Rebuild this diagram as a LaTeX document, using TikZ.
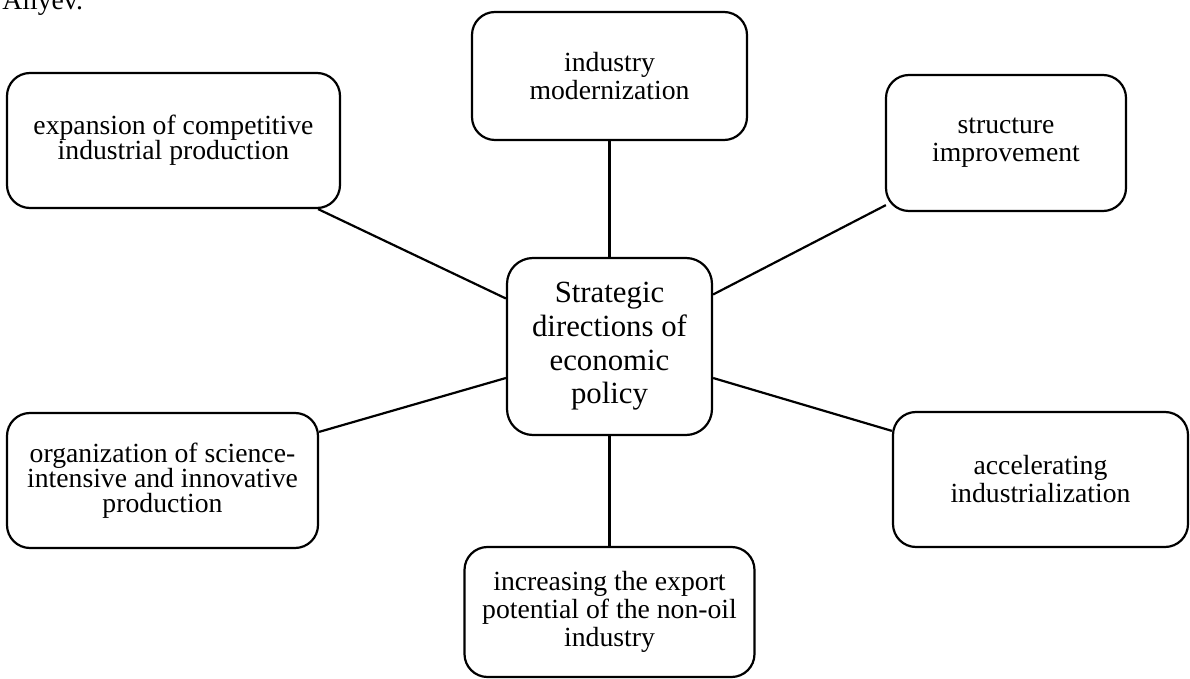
\documentclass[tikz,border=0pt]{standalone}
\usepackage{fontspec}
\setmainfont{Liberation Serif}
\usepackage{tikz}
\usetikzlibrary{calc}

\tikzset{
  branch/.style={draw,line width=1.1pt,rounded corners=11.5pt,align=center,inner sep=2pt,
    font=\fontsize{13.85pt}{14pt}\selectfont},
  tight/.style={font=\fontsize{13.85pt}{12.6pt}\selectfont},
  hubbox/.style={branch,rounded corners=13pt,font=\fontsize{15.4pt}{16.8pt}\selectfont},
  spoke/.style={line width=1.1pt}
}

\begin{document}
\begin{tikzpicture}[x=0.5pt,y=-0.5pt]
\useasboundingbox (0,0) rectangle (1190,679);
\node[anchor=base east,font=\fontsize{13.85pt}{14pt}\selectfont] (author) at (90,10){Aliyev.};
\node[hubbox,minimum width=102.5pt,minimum height=88.5pt] (hub) at (609.5,346.5){Strategic\\directions of\\economic\\policy};
\node[branch,tight,minimum width=166.5pt,minimum height=67.5pt] (expand) at (173.5,140.5){expansion of competitive\\industrial production};
\node[branch,minimum width=137.5pt,minimum height=64pt] (modern) at (609.5,76){industry\\modernization};
\node[branch,minimum width=120pt,minimum height=68pt] (struct) at (1006,143){structure\\improvement};
\node[branch,tight,minimum width=155.5pt,minimum height=67.5pt] (science) at (162.5,480.5){organization of science-\\intensive and innovative\\production};
\node[branch,minimum width=147.5pt,minimum height=67.5pt] (accel) at (1040.5,479.5){accelerating\\industrialization};
\node[branch,minimum width=145pt,minimum height=65pt] (export) at (609.5,612){increasing the export\\potential of the non-oil\\industry};
\draw[spoke] (hub.north) -- (modern.south);
\draw[spoke] (hub.south) -- (export.north);
\draw[spoke] ([yshift=24pt]hub.west) -- ([xshift=-11.5pt]expand.south east);
\draw[spoke] ([yshift=26pt]hub.east) -- ([xshift=0.5pt,yshift=3.5pt]struct.south west);
\draw[spoke] ([yshift=-15.75pt]hub.west) -- ([yshift=-10pt]science.north east);
\draw[spoke] ([yshift=-15.75pt]hub.east) -- ([yshift=-10pt]accel.north west);
\end{tikzpicture}
\end{document}
